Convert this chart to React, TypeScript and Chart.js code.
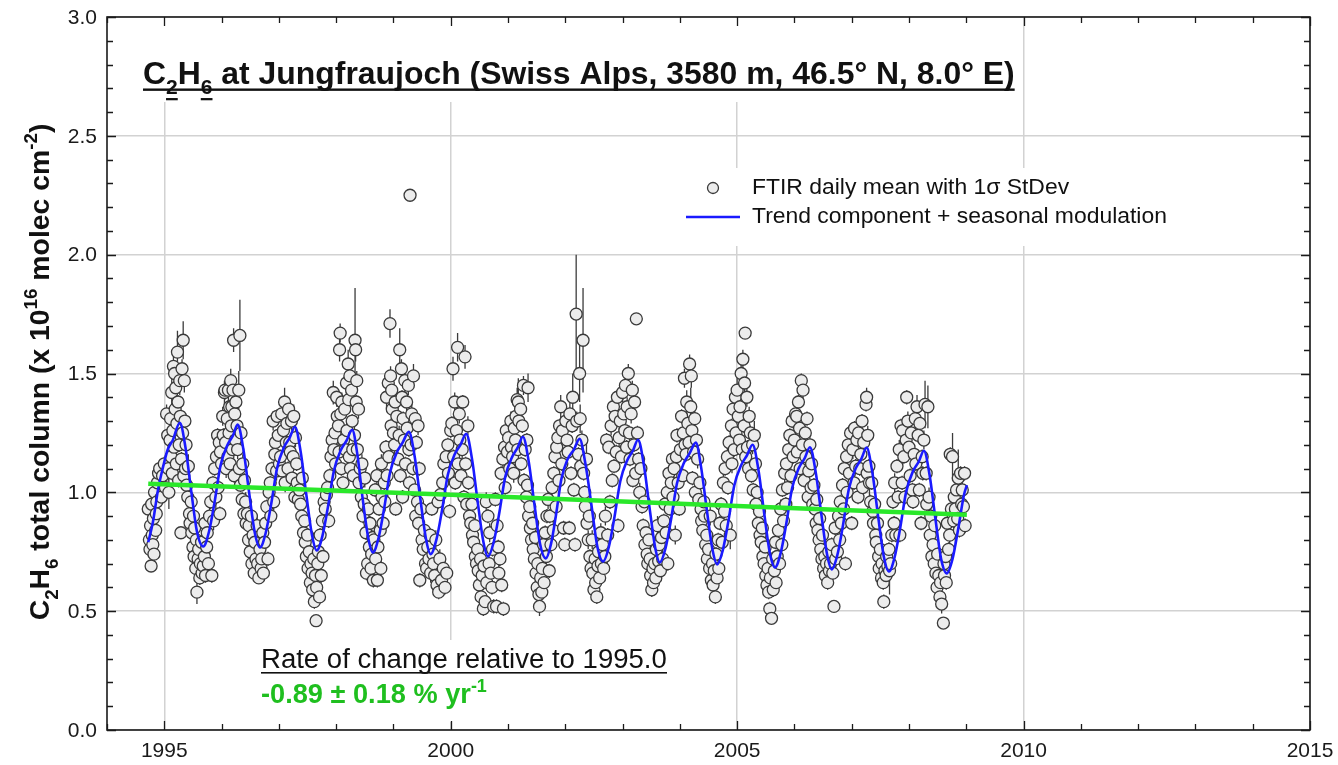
import React, { useEffect, useRef } from "react";
import { Chart, registerables } from "chart.js";

Chart.register(...registerables);

const FONT = '"Liberation Sans", Arial, Helvetica, sans-serif';

// ---- axis ticks ----
const xMajorTicks = [1995, 2000, 2005, 2010, 2015];
const xTickLabels = ["1995", "2000", "2005", "2010", "2015"];
const yMajorTicks = [0, 0.5, 1, 1.5, 2, 2.5, 3];
const yTickLabels = ["0.0", "0.5", "1.0", "1.5", "2.0", "2.5", "3.0"];

// ---- linear trend (green) ----
const trendYears = [1994.72, 2000.0, 2005.0, 2009.01];
const trendValues = [1.036, 0.99, 0.943, 0.906];

// ---- trend + seasonal modulation (blue) ----
const fitYears = [
  1994.72, 1994.8, 1994.89, 1994.98, 1995.06, 1995.15, 1995.27, 1995.37, 1995.47, 1995.57, 1995.68,
  1995.78, 1995.88, 1995.98, 1996.1, 1996.2, 1996.28, 1996.38, 1996.48, 1996.58, 1996.67,
  1996.77, 1996.87, 1996.97, 1997.09, 1997.19, 1997.28, 1997.38, 1997.48, 1997.58, 1997.66,
  1997.76, 1997.86, 1997.96, 1998.08, 1998.18, 1998.28, 1998.37, 1998.46, 1998.56, 1998.64,
  1998.74, 1998.84, 1998.94, 1999.06, 1999.16, 1999.27, 1999.37, 1999.47, 1999.57, 1999.65,
  1999.75, 1999.85, 1999.95, 2000.07, 2000.17, 2000.27, 2000.37, 2000.47, 2000.57, 2000.65,
  2000.75, 2000.85, 2000.95, 2001.07, 2001.17, 2001.26, 2001.36, 2001.46, 2001.56, 2001.66,
  2001.75, 2001.84, 2001.93, 2002.04, 2002.15, 2002.25, 2002.35, 2002.46, 2002.56, 2002.66,
  2002.76, 2002.86, 2002.96, 2003.08, 2003.18, 2003.27, 2003.37, 2003.47, 2003.57, 2003.65,
  2003.75, 2003.85, 2003.95, 2004.07, 2004.17, 2004.28, 2004.37, 2004.47, 2004.57, 2004.65,
  2004.75, 2004.85, 2004.95, 2005.07, 2005.17, 2005.27, 2005.37, 2005.47, 2005.57, 2005.66,
  2005.76, 2005.86, 2005.96, 2006.08, 2006.18, 2006.27, 2006.37, 2006.47, 2006.57, 2006.65,
  2006.75, 2006.85, 2006.95, 2007.07, 2007.17, 2007.26, 2007.36, 2007.46, 2007.56, 2007.65,
  2007.75, 2007.85, 2007.95, 2008.07, 2008.17, 2008.26, 2008.36, 2008.46, 2008.56, 2008.66,
  2008.76, 2008.86, 2008.96, 2009.01,
];
const fitValues = [
  0.79, 0.873, 1.01, 1.108, 1.18, 1.22, 1.293, 1.189, 1.006, 0.835, 0.772,
  0.834, 0.962, 1.111, 1.198, 1.239, 1.285, 1.182, 1.001, 0.83, 0.768,
  0.829, 0.956, 1.103, 1.19, 1.23, 1.276, 1.172, 0.989, 0.818, 0.755,
  0.816, 0.943, 1.09, 1.177, 1.217, 1.263, 1.16, 0.979, 0.809, 0.747,
  0.808, 0.935, 1.082, 1.169, 1.209, 1.255, 1.152, 0.972, 0.802, 0.74,
  0.801, 0.927, 1.074, 1.16, 1.2, 1.246, 1.143, 0.962, 0.792, 0.73,
  0.79, 0.916, 1.063, 1.148, 1.189, 1.234, 1.132, 0.952, 0.783, 0.722,
  0.782, 0.908, 1.054, 1.139, 1.18, 1.225, 1.122, 0.941, 0.771, 0.709,
  0.77, 0.898, 1.047, 1.134, 1.175, 1.221, 1.118, 0.937, 0.767, 0.705,
  0.765, 0.891, 1.038, 1.123, 1.164, 1.209, 1.107, 0.927, 0.758, 0.697,
  0.757, 0.883, 1.029, 1.114, 1.155, 1.2, 1.097, 0.916, 0.746, 0.684,
  0.745, 0.871, 1.018, 1.104, 1.144, 1.19, 1.087, 0.907, 0.738, 0.676,
  0.737, 0.865, 1.014, 1.101, 1.142, 1.188, 1.084, 0.901, 0.73, 0.667,
  0.728, 0.855, 1.002, 1.089, 1.129, 1.175, 1.072, 0.891, 0.721, 0.659,
  0.72, 0.848, 0.99, 1.03,
];

// ---- FTIR daily means: [decimal year, column (1e16 molec/cm2), 1-sigma stdev] ----
const daily: number[][] = [
  [1994.72,0.93,.03],[1994.74,0.80,.03],[1994.75,0.76,.02],[1994.76,0.86,.03],[1994.77,0.69,.02],[1994.78,0.95,.04],[1994.79,0.82,.03],[1994.80,0.78,.02],[1994.81,0.89,.03],[1994.82,0.74,.03],[1994.83,1.00,.03],[1994.85,0.84,.03],[1994.86,0.91,.02],[1994.87,0.96,.04],[1994.88,1.04,.03],[1994.90,1.08,.04],[1994.92,1.10,.03],[1994.95,0.98,.03],[1994.97,1.07,.04],
  [1995.00,1.12,.03],[1995.02,1.02,.04],[1995.04,1.33,.04],[1995.06,1.24,.03],[1995.07,1.10,.05],[1995.08,1.00,.07],[1995.10,1.22,.04],[1995.11,1.31,.03],[1995.12,1.15,.03],[1995.13,1.42,.08],[1995.14,1.08,.03],[1995.15,1.26,.03],[1995.16,1.53,.05],[1995.17,1.19,.04],[1995.18,1.50,.04],[1995.19,1.35,.03],[1995.20,1.44,.04],[1995.21,1.12,.03],[1995.22,1.29,.03],[1995.23,1.59,.09],[1995.24,1.38,.03],[1995.25,1.05,.03],[1995.26,1.20,.03],[1995.27,1.47,.06],[1995.28,1.32,.04],[1995.29,0.83,.02],[1995.30,1.14,.03],[1995.31,1.52,.04],[1995.32,1.25,.03],[1995.33,1.64,.08],[1995.34,1.07,.04],[1995.35,1.47,.05],[1995.36,1.30,.03],
  [1995.37,1.10,.04],[1995.38,1.20,.03],[1995.39,1.03,.04],[1995.41,0.98,.03],[1995.42,1.11,.05],[1995.44,0.91,.03],[1995.45,0.87,.03],[1995.47,0.96,.04],[1995.48,0.83,.03],[1995.50,0.77,.03],[1995.51,0.90,.03],[1995.52,0.73,.02],[1995.53,0.85,.04],[1995.55,0.68,.03],[1995.56,0.80,.03],[1995.57,0.58,.05],[1995.59,0.72,.03],[1995.60,0.76,.04],[1995.62,0.64,.03],[1995.63,0.70,.03],[1995.65,0.79,.03],[1995.66,0.66,.04],[1995.68,0.69,.03],[1995.70,0.73,.03],[1995.71,0.87,.03],[1995.72,0.65,.03],[1995.74,0.77,.03],[1995.75,0.83,.04],
  [1995.77,0.70,.03],[1995.79,0.90,.04],[1995.81,0.96,.03],[1995.83,0.65,.03],[1995.85,1.04,.03],[1995.86,0.88,.04],[1995.88,1.10,.03],[1995.90,0.98,.05],[1995.91,1.15,.03],[1995.93,1.24,.03],[1995.94,1.02,.04],[1995.96,1.21,.03],[1995.97,0.91,.03],[1995.98,1.17,.04],[1996.00,1.12,.03],
  [1996.02,1.32,.04],[1996.03,1.24,.03],[1996.05,1.42,.05],[1996.06,1.43,.04],[1996.07,1.21,.03],[1996.08,1.10,.04],[1996.10,1.31,.03],[1996.11,1.15,.03],[1996.12,1.43,.06],[1996.13,1.25,.04],[1996.14,1.36,.03],[1996.15,1.12,.03],[1996.16,1.47,.05],[1996.17,1.28,.03],[1996.18,1.36,.04],[1996.19,1.18,.03],[1996.20,1.43,.04],[1996.21,1.64,.05],[1996.22,1.07,.03],[1996.23,1.33,.04],[1996.24,1.22,.03],[1996.25,1.38,.05],[1996.27,1.28,.03],[1996.28,1.18,.04],[1996.30,1.43,.08],[1996.31,1.10,.03],[1996.32,1.66,.15],[1996.33,1.03,.03],[1996.34,1.25,.04],
  [1996.36,0.97,.03],[1996.37,1.12,.04],[1996.39,0.91,.03],[1996.40,1.05,.03],[1996.42,0.96,.04],[1996.43,0.87,.03],[1996.45,0.91,.03],[1996.47,0.80,.03],[1996.48,0.86,.04],[1996.50,0.75,.03],[1996.52,0.90,.03],[1996.53,0.70,.03],[1996.55,0.82,.04],[1996.57,0.66,.03],[1996.58,0.79,.03],[1996.60,0.72,.03],[1996.62,0.86,.04],[1996.63,0.70,.03],[1996.65,0.64,.02],[1996.67,0.76,.03],[1996.69,0.68,.03],[1996.70,0.72,.03],[1996.72,0.83,.04],[1996.73,0.66,.03],
  [1996.75,0.79,.03],[1996.77,0.87,.03],[1996.79,0.94,.03],[1996.81,0.72,.03],[1996.83,1.00,.04],[1996.85,1.04,.03],[1996.86,0.90,.03],[1996.88,1.10,.03],[1996.90,1.30,.04],[1996.91,0.96,.04],[1996.93,1.16,.03],[1996.94,1.21,.03],[1996.96,1.09,.04],[1996.97,1.32,.03],[1996.99,1.24,.03],
  [1997.01,1.12,.04],[1997.03,1.15,.03],[1997.05,1.33,.04],[1997.06,1.09,.03],[1997.08,1.26,.03],[1997.10,1.38,.06],[1997.11,1.04,.04],[1997.13,1.21,.03],[1997.14,1.29,.04],[1997.16,1.10,.03],[1997.17,1.35,.03],[1997.19,1.21,.03],[1997.20,1.17,.04],[1997.22,1.30,.04],[1997.23,1.06,.03],[1997.25,1.15,.03],[1997.26,1.32,.05],[1997.28,0.98,.03],[1997.29,1.23,.04],[1997.31,1.12,.03],[1997.32,1.04,.03],[1997.34,0.97,.04],
  [1997.36,1.01,.03],[1997.38,0.95,.03],[1997.40,0.90,.03],[1997.41,1.06,.04],[1997.43,0.83,.03],[1997.45,0.88,.04],[1997.46,0.79,.03],[1997.48,0.73,.03],[1997.50,0.82,.03],[1997.51,0.68,.03],[1997.53,0.75,.04],[1997.55,0.62,.03],[1997.56,0.70,.03],[1997.58,0.66,.03],[1997.59,0.59,.04],[1997.61,0.72,.03],[1997.62,0.54,.03],[1997.64,0.65,.03],[1997.65,0.46,.02],[1997.66,0.60,.03],[1997.68,0.70,.04],[1997.69,0.75,.03],[1997.71,0.56,.03],[1997.72,0.82,.03],[1997.74,0.65,.03],[1997.76,0.88,.04],[1997.77,0.73,.03],[1997.79,0.96,.03],
  [1997.81,0.93,.03],[1997.83,0.99,.03],[1997.85,1.02,.04],[1997.87,0.88,.03],[1997.89,1.07,.03],[1997.91,1.15,.04],[1997.93,1.22,.03],[1997.95,1.42,.05],[1997.96,1.18,.03],[1997.98,1.25,.03],[1997.99,1.12,.04],[1998.01,1.40,.04],[1998.02,1.32,.03],[1998.04,1.28,.03],[1998.05,1.17,.04],[1998.06,1.60,.05],[1998.07,1.67,.04],[1998.08,1.33,.03],[1998.09,1.10,.03],[1998.10,1.38,.04],[1998.12,1.04,.03],[1998.13,1.22,.03],[1998.15,1.35,.04],[1998.16,1.18,.03],[1998.18,1.46,.05],[1998.19,1.26,.03],[1998.21,1.54,.06],[1998.22,1.39,.04],[1998.23,1.15,.03],[1998.24,1.49,.05],[1998.25,1.10,.03],[1998.27,1.43,.04],[1998.28,1.30,.03],[1998.29,1.18,.03],[1998.30,1.07,.03],[1998.32,1.24,.04],[1998.33,1.64,.22],[1998.34,1.60,.05],[1998.35,1.38,.03],[1998.36,1.47,.04],[1998.37,1.18,.03],[1998.39,1.35,.04],[1998.40,1.04,.03],
  [1998.42,1.10,.03],[1998.44,0.98,.03],[1998.45,1.12,.04],[1998.47,0.90,.03],[1998.49,0.95,.03],[1998.50,1.06,.04],[1998.52,0.83,.03],[1998.53,0.66,.03],[1998.55,0.70,.03],[1998.56,0.93,.04],[1998.58,0.77,.03],[1998.59,0.87,.03],[1998.61,0.68,.03],[1998.62,0.74,.04],[1998.64,0.81,.03],[1998.65,0.63,.03],
  [1998.66,0.80,.03],[1998.68,1.01,.03],[1998.69,0.72,.03],[1998.71,1.07,.04],[1998.72,0.63,.03],[1998.73,0.77,.03],[1998.75,0.93,.03],[1998.77,0.84,.03],[1998.78,0.68,.03],[1998.79,1.12,.04],[1998.80,0.98,.03],[1998.82,0.87,.03],[1998.84,1.04,.03],[1998.85,0.96,.04],[1998.87,1.19,.03],[1998.88,1.40,.05],[1998.89,1.07,.03],[1998.91,1.46,.04],[1998.92,1.15,.03],[1998.94,1.71,.06],[1998.95,1.49,.04],[1998.96,1.28,.03],[1998.97,1.43,.05],[1998.98,1.35,.03],
  [1999.00,1.25,.03],[1999.02,1.20,.04],[1999.03,1.38,.04],[1999.04,0.93,.03],[1999.06,1.32,.03],[1999.08,1.14,.03],[1999.10,1.24,.04],[1999.11,1.60,.09],[1999.12,1.07,.03],[1999.14,1.52,.04],[1999.15,1.40,.03],[1999.16,0.98,.03],[1999.17,1.31,.03],[1999.19,1.22,.04],[1999.20,1.47,.05],[1999.21,1.12,.03],[1999.23,1.38,.04],[1999.24,1.27,.03],[1999.26,1.45,.04],[1999.27,1.18,.03],[1999.28,1.04,.03],[1999.29,2.25,.01],[1999.31,1.20,.03],[1999.32,1.33,.04],[1999.34,1.10,.03],[1999.35,1.49,.05],[1999.37,1.01,.03],[1999.38,1.31,.04],[1999.39,0.90,.03],[1999.40,1.21,.03],[1999.42,0.96,.03],[1999.43,1.28,.04],[1999.44,0.87,.03],[1999.45,1.10,.03],[1999.46,0.63,.03],[1999.48,0.93,.03],[1999.50,0.80,.04],[1999.52,0.76,.03],[1999.54,0.84,.03],[1999.56,0.70,.03],[1999.58,0.68,.04],[1999.60,0.77,.03],[1999.62,0.72,.03],[1999.64,0.82,.03],[1999.65,0.66,.04],[1999.67,0.93,.03],[1999.69,0.74,.03],[1999.70,0.70,.03],[1999.72,0.65,.03],[1999.74,0.80,.04],[1999.76,0.61,.03],[1999.78,0.96,.03],[1999.79,0.58,.03],[1999.81,0.72,.04],[1999.82,0.99,.03],[1999.84,0.63,.03],[1999.86,1.04,.03],[1999.87,0.68,.03],[1999.88,1.12,.04],[1999.90,0.60,.03],[1999.92,1.15,.03],[1999.93,0.66,.03],[1999.95,1.20,.03],[1999.96,1.08,.04],[1999.98,0.92,.03],
  [2000.00,1.26,.03],[2000.02,1.29,.03],[2000.04,1.52,.05],[2000.05,1.15,.03],[2000.07,1.38,.04],[2000.08,1.04,.03],[2000.10,1.26,.03],[2000.12,1.61,.06],[2000.13,1.12,.03],[2000.15,1.33,.04],[2000.16,1.22,.03],[2000.18,1.07,.03],[2000.20,1.18,.04],[2000.21,1.38,.03],[2000.23,0.98,.03],[2000.25,1.57,.05],[2000.26,1.12,.03],[2000.28,0.95,.03],[2000.30,1.28,.04],[2000.31,1.04,.03],[2000.33,0.90,.03],
  [2000.35,0.87,.03],[2000.37,0.95,.04],[2000.38,0.82,.03],[2000.40,0.79,.03],[2000.42,0.86,.03],[2000.43,0.73,.03],[2000.45,0.70,.04],[2000.47,0.76,.03],[2000.48,0.67,.03],[2000.50,0.61,.03],[2000.52,0.72,.03],[2000.53,0.56,.04],[2000.55,0.65,.03],[2000.57,0.51,.03],[2000.58,0.69,.03],[2000.60,0.54,.03],[2000.62,0.96,.04],[2000.63,0.62,.03],[2000.65,0.90,.03],[2000.67,0.70,.03],[2000.68,0.83,.04],[2000.70,0.66,.03],[2000.72,0.60,.03],[2000.73,0.76,.03],[2000.75,0.52,.03],
  [2000.78,0.97,.03],[2000.80,0.52,.03],[2000.81,0.86,.03],[2000.83,0.77,.03],[2000.84,0.66,.04],[2000.86,0.72,.03],[2000.88,1.08,.03],[2000.89,0.61,.03],[2000.91,1.14,.04],[2000.92,0.51,.03],[2000.94,1.19,.03],[2000.95,1.02,.03],[2000.97,1.26,.04],[2000.99,1.17,.03],
  [2001.01,1.23,.03],[2001.03,1.10,.04],[2001.05,1.30,.04],[2001.06,1.19,.03],[2001.08,1.15,.03],[2001.10,1.08,.04],[2001.11,1.27,.03],[2001.13,1.22,.03],[2001.14,1.32,.04],[2001.16,1.39,.05],[2001.17,1.18,.03],[2001.18,1.38,.10],[2001.19,1.30,.03],[2001.22,1.35,.04],[2001.23,1.12,.03],[2001.25,1.28,.03],[2001.27,1.45,.04],[2001.28,1.05,.03],[2001.30,1.18,.03],[2001.32,0.98,.03],[2001.33,1.22,.03],[2001.35,1.44,.06],
  [2001.34,1.03,.03],[2001.36,0.90,.04],[2001.38,0.94,.03],[2001.39,0.85,.03],[2001.41,0.80,.03],[2001.43,0.87,.04],[2001.44,0.76,.03],[2001.46,0.72,.03],[2001.48,0.81,.03],[2001.49,0.66,.04],[2001.51,0.60,.03],[2001.52,0.70,.03],[2001.54,0.57,.03],[2001.55,0.52,.04],[2001.57,0.64,.03],[2001.59,0.58,.03],[2001.60,0.68,.03],[2001.62,0.78,.04],[2001.63,0.62,.03],[2001.65,0.83,.03],[2001.67,0.73,.03],[2001.68,0.90,.03],[2001.70,0.97,.04],[2001.72,0.67,.03],[2001.73,0.90,.03],
  [2001.75,0.78,.03],[2001.77,1.02,.03],[2001.79,0.84,.04],[2001.80,1.08,.03],[2001.82,1.15,.03],[2001.84,0.94,.03],[2001.85,1.19,.04],[2001.87,1.23,.03],[2001.89,1.05,.03],[2001.90,1.28,.03],[2001.92,1.36,.05],[2001.94,1.12,.03],[2001.95,1.26,.03],[2001.97,0.85,.03],[2001.99,0.78,.03],
  [2002.01,1.30,.04],[2002.03,1.22,.03],[2002.05,1.17,.03],[2002.07,0.85,.03],[2002.08,1.33,.05],[2002.10,1.08,.03],[2002.12,1.28,.03],[2002.13,1.40,.10],[2002.15,1.01,.03],[2002.17,0.78,.03],[2002.19,1.75,.25],[2002.20,1.30,.04],[2002.23,1.16,.03],[2002.25,1.50,.12],[2002.26,1.31,.06],[2002.27,1.11,.03],[2002.29,1.22,.04],[2002.31,1.64,.22],[2002.32,1.08,.03],[2002.34,1.00,.03],
  [2002.35,0.94,.03],[2002.37,1.14,.08],[2002.38,0.87,.03],[2002.40,0.80,.04],[2002.42,0.90,.03],[2002.43,0.73,.03],[2002.45,0.68,.03],[2002.47,0.80,.04],[2002.48,0.66,.03],[2002.50,0.59,.03],[2002.52,0.72,.03],[2002.53,0.62,.04],[2002.55,0.56,.03],[2002.57,0.69,.03],[2002.58,0.75,.03],[2002.60,0.64,.03],[2002.62,0.83,.04],[2002.63,0.70,.03],[2002.65,0.78,.03],[2002.67,0.68,.03],[2002.69,0.73,.03],[2002.70,0.90,.04],
  [2002.72,1.22,.03],[2002.74,0.82,.03],[2002.76,1.19,.03],[2002.78,0.96,.03],[2002.80,1.28,.04],[2002.82,1.05,.03],[2002.84,1.36,.03],[2002.85,1.11,.03],[2002.87,1.32,.04],[2002.89,1.17,.03],[2002.91,1.40,.03],[2002.92,0.86,.03],[2002.94,1.23,.04],[2002.96,1.30,.03],[2002.98,1.15,.03],
  [2003.00,1.42,.04],[2003.02,1.33,.03],[2003.04,1.26,.03],[2003.05,1.45,.05],[2003.07,1.19,.03],[2003.08,1.36,.04],[2003.10,1.50,.04],[2003.12,1.25,.03],[2003.13,1.14,.03],[2003.15,1.33,.04],[2003.17,1.43,.04],[2003.18,1.05,.03],[2003.20,1.20,.03],[2003.21,1.38,.04],[2003.23,1.08,.03],[2003.24,1.73,.02],[2003.26,1.25,.03],[2003.28,1.14,.03],[2003.30,1.00,.04],[2003.32,1.10,.03],
  [2003.34,0.94,.03],[2003.36,0.86,.03],[2003.38,0.96,.03],[2003.39,0.78,.04],[2003.41,0.83,.03],[2003.43,0.74,.03],[2003.44,0.70,.03],[2003.46,0.80,.04],[2003.48,0.72,.03],[2003.49,0.65,.03],[2003.51,0.59,.03],[2003.53,0.68,.04],[2003.54,0.62,.03],[2003.56,0.70,.03],[2003.58,0.64,.03],[2003.59,0.76,.03],[2003.61,0.86,.04],[2003.63,0.71,.03],[2003.64,0.78,.03],[2003.66,0.67,.03],[2003.68,0.81,.03],[2003.70,0.72,.04],
  [2003.72,0.88,.03],[2003.74,0.95,.03],[2003.76,0.83,.03],[2003.78,1.00,.04],[2003.79,0.70,.03],[2003.81,1.08,.03],[2003.83,0.93,.03],[2003.85,1.04,.04],[2003.87,1.14,.03],[2003.88,0.98,.03],[2003.90,1.10,.03],[2003.92,0.82,.04],[2003.94,1.15,.03],[2003.95,1.24,.03],[2003.97,1.04,.03],[2003.99,0.93,.03],
  [2004.01,1.18,.04],[2004.03,1.32,.03],[2004.05,1.07,.03],[2004.06,1.25,.03],[2004.08,1.48,.04],[2004.09,1.20,.03],[2004.11,1.16,.03],[2004.12,1.38,.05],[2004.14,1.29,.03],[2004.16,1.21,.04],[2004.17,1.54,.04],[2004.19,1.36,.08],[2004.20,1.49,.05],[2004.21,1.26,.03],[2004.22,1.06,.03],[2004.24,1.17,.04],[2004.26,1.31,.03],[2004.27,1.00,.03],[2004.29,1.22,.03],[2004.31,1.14,.04],[2004.33,0.97,.03],
  [2004.35,1.04,.03],[2004.37,0.93,.03],[2004.38,0.88,.04],[2004.40,0.84,.03],[2004.42,0.96,.03],[2004.43,0.90,.03],[2004.45,0.78,.04],[2004.47,0.82,.03],[2004.48,0.72,.03],[2004.50,0.76,.03],[2004.52,0.68,.03],[2004.53,0.90,.04],[2004.55,0.63,.03],[2004.57,0.70,.03],[2004.58,0.61,.03],[2004.60,0.67,.04],[2004.62,0.56,.03],[2004.63,0.74,.03],[2004.65,0.64,.03],[2004.67,0.80,.03],[2004.68,0.68,.04],[2004.70,0.87,.03],
  [2004.72,0.95,.03],[2004.74,0.79,.03],[2004.76,1.04,.04],[2004.78,0.92,.03],[2004.79,1.10,.03],[2004.81,0.86,.03],[2004.83,1.15,.04],[2004.84,1.02,.03],[2004.86,1.21,.03],[2004.88,0.82,.06],[2004.90,1.28,.03],[2004.91,1.12,.04],[2004.93,1.35,.03],[2004.95,1.18,.03],[2004.97,1.40,.04],[2004.98,1.25,.03],
  [2005.00,1.43,.05],[2005.02,1.32,.03],[2005.04,1.22,.03],[2005.05,1.36,.03],[2005.07,1.50,.04],[2005.09,1.18,.03],[2005.10,1.56,.04],[2005.12,1.28,.03],[2005.13,1.46,.05],[2005.14,1.67,.02],[2005.15,1.15,.03],[2005.17,1.40,.04],[2005.18,1.19,.03],[2005.20,1.10,.03],[2005.21,1.32,.04],[2005.23,1.25,.03],[2005.25,1.07,.03],[2005.27,1.20,.04],[2005.28,1.01,.03],[2005.30,1.24,.06],[2005.32,1.12,.03],[2005.33,0.95,.03],
  [2005.35,1.00,.03],[2005.37,0.87,.04],[2005.39,0.92,.03],[2005.40,0.82,.03],[2005.42,0.79,.03],[2005.44,0.85,.04],[2005.45,0.73,.03],[2005.47,0.70,.03],[2005.49,0.77,.03],[2005.50,0.65,.04],[2005.52,0.61,.03],[2005.54,0.68,.03],[2005.55,0.58,.03],[2005.57,0.51,.03],[2005.58,0.64,.03],[2005.60,0.47,.02],[2005.62,0.72,.03],[2005.63,0.59,.03],[2005.65,0.67,.04],[2005.67,0.79,.03],[2005.68,0.62,.03],[2005.70,0.73,.03],
  [2005.72,0.84,.03],[2005.74,0.70,.03],[2005.76,0.93,.04],[2005.78,0.78,.03],[2005.79,1.01,.03],[2005.81,0.88,.03],[2005.83,1.08,.04],[2005.85,0.95,.03],[2005.86,1.12,.03],[2005.88,1.02,.03],[2005.90,1.18,.04],[2005.92,1.24,.03],[2005.94,1.07,.03],[2005.96,1.30,.03],[2005.98,1.15,.03],
  [2006.00,1.22,.04],[2006.02,1.33,.03],[2006.04,1.32,.04],[2006.05,1.17,.03],[2006.07,1.38,.03],[2006.09,1.27,.04],[2006.10,1.10,.03],[2006.12,1.47,.03],[2006.14,1.20,.03],[2006.15,1.43,.05],[2006.17,1.05,.03],[2006.19,1.25,.03],[2006.20,1.15,.04],[2006.22,1.31,.03],[2006.24,0.98,.03],[2006.25,1.09,.03],[2006.27,1.20,.04],[2006.29,1.02,.03],[2006.30,1.12,.03],[2006.32,0.95,.03],
  [2006.34,1.03,.03],[2006.36,0.93,.04],[2006.38,0.87,.03],[2006.39,0.97,.03],[2006.41,0.84,.03],[2006.43,0.80,.04],[2006.44,0.89,.03],[2006.46,0.76,.03],[2006.48,0.72,.03],[2006.49,0.82,.03],[2006.51,0.68,.04],[2006.53,0.73,.03],[2006.54,0.65,.03],[2006.56,0.70,.03],[2006.58,0.62,.03],[2006.60,0.75,.04],[2006.61,0.67,.03],[2006.63,0.70,.03],[2006.65,0.78,.03],[2006.67,0.66,.03],[2006.69,0.52,.02],[2006.71,0.85,.03],[2006.72,0.72,.04],
  [2006.75,0.75,.03],[2006.77,0.90,.03],[2006.79,0.80,.04],[2006.80,0.96,.03],[2006.82,0.87,.03],[2006.84,1.03,.03],[2006.86,0.93,.04],[2006.87,1.10,.03],[2006.89,0.70,.03],[2006.91,1.15,.03],[2006.92,1.00,.04],[2006.94,1.20,.03],[2006.96,1.08,.03],[2006.98,1.25,.03],
  [2007.00,0.87,.03],[2007.02,1.18,.04],[2007.04,1.04,.03],[2007.05,1.27,.03],[2007.07,1.11,.03],[2007.09,1.22,.04],[2007.11,0.98,.03],[2007.12,1.25,.03],[2007.14,1.10,.03],[2007.16,1.16,.04],[2007.18,1.30,.03],[2007.19,1.02,.03],[2007.21,1.21,.03],[2007.25,1.37,.03],[2007.26,1.40,.04],[2007.27,1.08,.03],[2007.28,1.24,.04],[2007.30,1.11,.03],[2007.31,1.04,.07],[2007.33,0.96,.03],
  [2007.35,1.04,.03],[2007.37,0.92,.03],[2007.38,0.87,.04],[2007.40,0.95,.03],[2007.42,0.82,.03],[2007.43,0.79,.03],[2007.45,0.87,.04],[2007.47,0.73,.03],[2007.48,0.68,.03],[2007.50,0.76,.03],[2007.52,0.64,.03],[2007.53,0.70,.04],[2007.55,0.62,.03],[2007.56,0.54,.03],[2007.58,0.67,.03],[2007.60,0.65,.03],[2007.61,0.73,.04],[2007.63,0.69,.03],[2007.65,0.76,.03],[2007.66,0.67,.10],[2007.68,0.70,.03],[2007.70,0.82,.03],
  [2007.72,0.96,.03],[2007.74,0.87,.03],[2007.75,1.04,.04],[2007.77,0.82,.03],[2007.79,1.11,.03],[2007.81,0.98,.03],[2007.83,1.18,.04],[2007.84,0.82,.03],[2007.86,1.28,.03],[2007.88,1.04,.03],[2007.89,1.26,.04],[2007.91,1.15,.03],[2007.93,0.98,.03],[2007.95,1.22,.03],[2007.96,1.40,.03],
  [2007.98,1.30,.04],[2008.00,1.19,.03],[2008.02,1.07,.03],[2008.04,1.25,.04],[2008.06,1.01,.03],[2008.07,0.96,.03],[2008.09,1.16,.03],[2008.11,1.31,.04],[2008.12,1.12,.03],[2008.14,1.36,.05],[2008.16,1.24,.03],[2008.18,1.01,.03],[2008.19,1.29,.03],[2008.21,0.87,.03],[2008.23,1.15,.03],[2008.24,1.08,.03],[2008.26,1.22,.04],[2008.28,1.37,.10],[2008.30,1.08,.03],[2008.31,0.95,.03],[2008.33,1.36,.09],
  [2008.35,0.98,.04],[2008.37,0.82,.03],[2008.38,0.90,.03],[2008.40,0.73,.03],[2008.42,0.78,.04],[2008.44,0.70,.03],[2008.45,0.86,.03],[2008.47,0.66,.03],[2008.49,0.60,.03],[2008.50,0.74,.04],[2008.52,0.65,.03],[2008.54,0.56,.03],[2008.55,0.62,.03],[2008.57,0.53,.04],[2008.60,0.45,.02],[2008.61,0.70,.03],[2008.62,0.65,.03],[2008.64,0.73,.03],[2008.65,0.62,.03],[2008.67,0.87,.03],
  [2008.69,0.76,.03],[2008.71,0.82,.04],[2008.72,1.16,.03],[2008.74,0.93,.03],[2008.76,1.15,.10],[2008.78,0.88,.03],[2008.79,0.98,.03],[2008.81,0.93,.15],[2008.83,1.01,.03],[2008.85,0.89,.03],[2008.86,1.06,.12],[2008.88,0.84,.03],[2008.90,1.08,.03],[2008.92,0.95,.03],[2008.93,1.01,.03],[2008.95,0.94,.04],[2008.97,1.08,.03],[2008.98,0.86,.03],
];

// ---- text ----
type Run = { t: string; k?: "sub" | "sup" };
const titleRuns: Run[] = [
  { t: "C" }, { t: "2", k: "sub" }, { t: "H" }, { t: "6", k: "sub" },
  { t: " at Jungfraujoch (Swiss Alps, 3580 m, 46.5° N, 8.0° E)" },
];
const yTitleRuns: Run[] = [
  { t: "C" }, { t: "2", k: "sub" }, { t: "H" }, { t: "6", k: "sub" },
  { t: " total column (x 10" }, { t: "16", k: "sup" }, { t: " molec cm" }, { t: "-2", k: "sup" }, { t: ")" },
];
const legendLabels = ["FTIR daily mean with 1σ StDev", "Trend component + seasonal modulation"];
const rateHeading = "Rate of change relative to 1995.0";
const rateRuns: Run[] = [{ t: "-0.89 ± 0.18 % yr" }, { t: "-1", k: "sup" }];

function runFont(size: number, weight: string, k?: string) {
  const s = k ? size * 0.66 : size;
  return `${weight} ${s}px ${FONT}`;
}
function measureRuns(ctx: CanvasRenderingContext2D, runs: Run[], size: number, weight: string) {
  let w = 0;
  for (const r of runs) {
    ctx.font = runFont(size, weight, r.k);
    w += ctx.measureText(r.t).width;
  }
  return w;
}
function fitSize(ctx: CanvasRenderingContext2D, runs: Run[], weight: string, target: number) {
  return (100 * target) / measureRuns(ctx, runs, 100, weight);
}
function drawRuns(
  ctx: CanvasRenderingContext2D, runs: Run[], x: number, y: number, size: number,
  weight: string, color: string, underline = false,
) {
  let cx = x;
  ctx.fillStyle = color;
  ctx.textAlign = "left";
  ctx.textBaseline = "alphabetic";
  for (const r of runs) {
    ctx.font = runFont(size, weight, r.k);
    const dy = r.k === "sub" ? size * 0.32 : r.k === "sup" ? -size * 0.42 : 0;
    ctx.fillText(r.t, cx, y + dy);
    const w = ctx.measureText(r.t).width;
    if (underline && r.k === "sub") ctx.fillRect(cx, y + dy + size * 0.12, w, Math.max(1.5, size * 0.07));
    cx += w;
  }
  if (underline) ctx.fillRect(x, y + size * 0.14, cx - x, Math.max(1.5, size * 0.075));
  return cx - x;
}

const decorPlugin = {
  id: "decor",
  beforeDatasetsDraw(chart: any) {
    const ctx: CanvasRenderingContext2D = chart.ctx;
    const { left, right, top, bottom } = chart.chartArea;
    const xs = chart.scales.x;
    const ys = chart.scales.y;
    ctx.save();
    // opaque backgrounds behind the text blocks (hide grid lines there)
    ctx.fillStyle = "#ffffff";
    ctx.fillRect(136, top + 1, 886, 84);
    ctx.fillRect(680, 168, 500, 78);
    ctx.fillRect(255, 640, 420, 82);
    // error bars
    ctx.beginPath();
    ctx.rect(left, top, right - left, bottom - top);
    ctx.clip();
    ctx.strokeStyle = "#3c3c3c";
    ctx.lineWidth = 1.3;
    ctx.beginPath();
    for (const d of daily) {
      const px = xs.getPixelForValue(d[0]);
      ctx.moveTo(px, ys.getPixelForValue(d[1] - d[2]));
      ctx.lineTo(px, ys.getPixelForValue(d[1] + d[2]));
    }
    ctx.stroke();
    ctx.restore();
  },
  afterDraw(chart: any) {
    const ctx: CanvasRenderingContext2D = chart.ctx;
    const { left, right, top, bottom } = chart.chartArea;
    const xs = chart.scales.x;
    const ys = chart.scales.y;
    ctx.save();
    // frame
    ctx.strokeStyle = "#1a1a1a";
    ctx.lineWidth = 1.6;
    ctx.strokeRect(left, top, right - left, bottom - top);
    // inward ticks on all four sides
    ctx.lineWidth = 1.3;
    ctx.beginPath();
    for (let yr = 1994; yr <= 2015; yr++) {
      const px = Math.round(xs.getPixelForValue(yr)) + 0.5;
      const len = yr % 5 === 0 ? 9 : 6;
      ctx.moveTo(px, bottom);
      ctx.lineTo(px, bottom - len);
      ctx.moveTo(px, top);
      ctx.lineTo(px, top + len);
    }
    for (let i = 0; i <= 30; i++) {
      const py = Math.round(ys.getPixelForValue(i / 10)) + 0.5;
      const len = i % 5 === 0 ? 9 : 6;
      ctx.moveTo(left, py);
      ctx.lineTo(left + len, py);
      ctx.moveTo(right, py);
      ctx.lineTo(right - len, py);
    }
    ctx.stroke();
    // tick labels
    ctx.fillStyle = "#1a1a1a";
    ctx.font = `21px ${FONT}`;
    ctx.textAlign = "center";
    ctx.textBaseline = "middle";
    xMajorTicks.forEach((v, i) => ctx.fillText(xTickLabels[i], xs.getPixelForValue(v), 751));
    ctx.textAlign = "right";
    yMajorTicks.forEach((v, i) => ctx.fillText(yTickLabels[i], 97, ys.getPixelForValue(v) + 1));

    // y-axis title
    ctx.save();
    const ySize = fitSize(ctx, yTitleRuns, "bold", 497);
    const yW = measureRuns(ctx, yTitleRuns, ySize, "bold");
    ctx.translate(49, 372);
    ctx.rotate(-Math.PI / 2);
    drawRuns(ctx, yTitleRuns, -yW / 2, 0, ySize, "bold", "#111111");
    ctx.restore();

    // chart title
    const tSize = fitSize(ctx, titleRuns, "bold", 872);
    drawRuns(ctx, titleRuns, 143, 84, tSize, "bold", "#111111", true);

    // legend
    const lSize = fitSize(ctx, [{ t: legendLabels[1] }], "normal", 415);
    ctx.beginPath();
    ctx.arc(713, 188, 5.5, 0, Math.PI * 2);
    ctx.fillStyle = "#ececec";
    ctx.fill();
    ctx.strokeStyle = "#3a3a3a";
    ctx.lineWidth = 1.3;
    ctx.stroke();
    ctx.beginPath();
    ctx.moveTo(686, 217);
    ctx.lineTo(740, 217);
    ctx.strokeStyle = "#1a1aff";
    ctx.lineWidth = 2.6;
    ctx.stroke();
    ctx.fillStyle = "#111111";
    ctx.font = `${lSize}px ${FONT}`;
    ctx.textAlign = "left";
    ctx.textBaseline = "middle";
    ctx.fillText(legendLabels[0], 752, 188);
    ctx.fillText(legendLabels[1], 752, 217);

    // rate of change annotation
    const rSize = fitSize(ctx, [{ t: rateHeading }], "normal", 406);
    drawRuns(ctx, [{ t: rateHeading }], 261, 668, rSize, "normal", "#111111", false);
    ctx.fillRect(261, 672, 406, 1.6);
    const gSize = fitSize(ctx, rateRuns, "bold", 226);
    drawRuns(ctx, rateRuns, 261, 703, gSize, "bold", "#1fbf1f");
    ctx.restore();
  },
};

export default function App() {
  const canvasRef = useRef<HTMLCanvasElement | null>(null);

  useEffect(() => {
    const canvas = canvasRef.current;
    if (!canvas) return;
    const chart = new Chart(canvas, {
      type: "scatter",
      data: {
        datasets: [
          {
            type: "line",
            label: "Linear trend",
            data: trendYears.map((x, i) => ({ x, y: trendValues[i] })),
            borderColor: "#2ae82a",
            borderWidth: 4.5,
            pointRadius: 0,
            fill: false,
            order: 0,
          } as any,
          {
            type: "line",
            label: "Trend component + seasonal modulation",
            data: fitYears.map((x, i) => ({ x, y: fitValues[i] })),
            borderColor: "#1a1aff",
            borderWidth: 2.6,
            pointRadius: 0,
            fill: false,
            cubicInterpolationMode: "monotone",
            order: 1,
          } as any,
          {
            type: "scatter",
            label: "FTIR daily mean with 1σ StDev",
            data: daily.map((d) => ({ x: d[0], y: d[1] })),
            pointRadius: 6,
            pointBackgroundColor: "#ececec",
            pointBorderColor: "#3a3a3a",
            pointBorderWidth: 1.3,
            order: 2,
          } as any,
        ],
      },
      options: {
        animation: false,
        responsive: false,
        devicePixelRatio: 1,
        events: [],
        layout: { padding: { left: 107, right: 28, top: 17, bottom: 35 } },
        plugins: { legend: { display: false }, tooltip: { enabled: false }, title: { display: false } },
        scales: {
          x: {
            type: "linear",
            min: 1994,
            max: 2015,
            ticks: { display: false },
            afterBuildTicks: (axis: any) => {
              axis.ticks = xMajorTicks.map((value) => ({ value }));
            },
            grid: { color: "#d2d2d2", lineWidth: 1.5, drawTicks: false },
            border: { display: false },
          },
          y: {
            type: "linear",
            min: 0,
            max: 3,
            ticks: { display: false },
            afterBuildTicks: (axis: any) => {
              axis.ticks = yMajorTicks.map((value) => ({ value }));
            },
            grid: { color: "#d2d2d2", lineWidth: 1.5, drawTicks: false },
            border: { display: false },
          },
        },
      } as any,
      plugins: [decorPlugin],
    });
    return () => chart.destroy();
  }, []);

  return (
    <div style={{ position: "absolute", left: 0, top: 0, width: 1338, height: 765, background: "#ffffff" }}>
      <canvas ref={canvasRef} width={1338} height={765} style={{ display: "block" }} />
    </div>
  );
}
